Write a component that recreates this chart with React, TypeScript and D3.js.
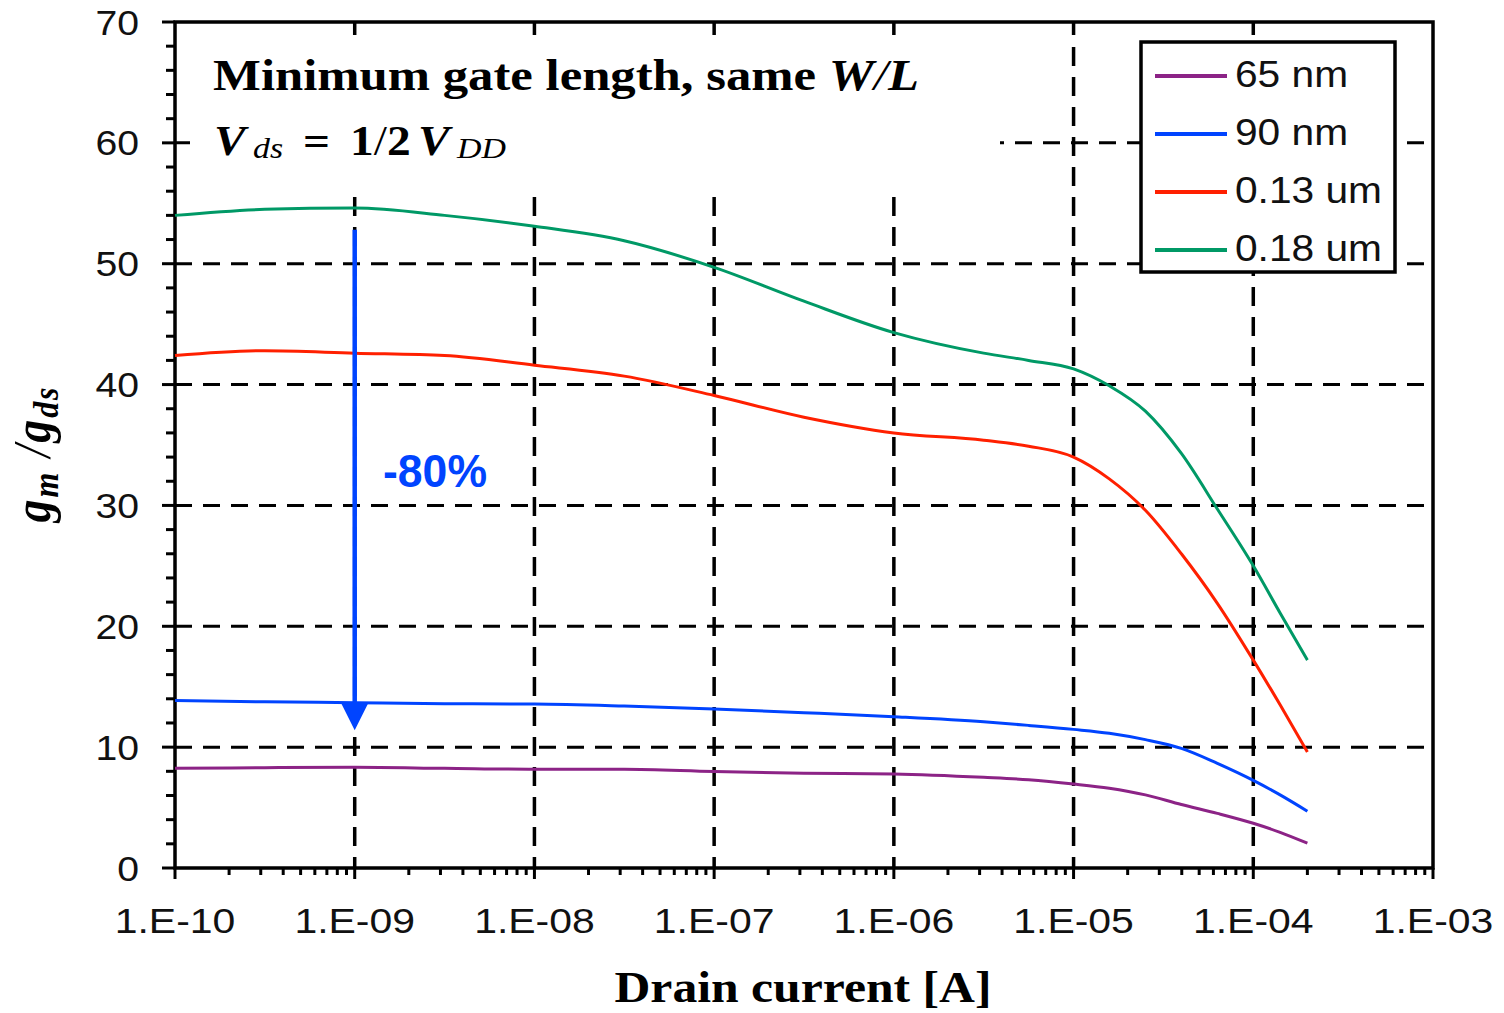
import React from "react";
import * as d3 from "d3";

// drain current sample points [A]
const currents = [
  1e-10, 3.16e-10, 1e-9, 3.16e-9, 1e-8, 3.16e-8, 1e-7, 3.16e-7, 1e-6, 3.16e-6,
  5.62e-6, 1e-5, 1.58e-5, 2.51e-5, 3.98e-5, 6.31e-5, 1e-4, 1.41e-4, 2e-4,
];

// gm/gds for each technology node
const gain65nm = [8.25, 8.3, 8.33, 8.25, 8.17, 8.17, 7.98, 7.85, 7.78, 7.5, 7.3, 6.95, 6.6, 6.05, 5.25, 4.52, 3.7, 2.95, 2.05];
const gain90nm = [13.85, 13.75, 13.68, 13.6, 13.57, 13.4, 13.15, 12.85, 12.52, 12.1, 11.8, 11.47, 11.15, 10.62, 9.9, 8.66, 7.25, 6.05, 4.7];
const gain130nm = [42.4, 42.8, 42.6, 42.4, 41.6, 40.7, 39.1, 37.3, 36.0, 35.4, 34.9, 34.0, 32.2, 29.6, 26.0, 21.9, 17.2, 13.5, 9.6];
const gain180nm = [54.0, 54.5, 54.6, 54.0, 53.1, 51.9, 49.7, 46.9, 44.3, 42.6, 42.0, 41.3, 39.9, 37.8, 34.3, 29.7, 25.0, 21.1, 17.2];

const seriesNames = ["65 nm", "90 nm", "0.13 um", "0.18 um"];
const seriesColors = ["#8c2386", "#0044ff", "#ff2000", "#009966"];
const seriesValues = [gain65nm, gain90nm, gain130nm, gain180nm];

const xTickValues = [1e-10, 1e-9, 1e-8, 1e-7, 1e-6, 1e-5, 1e-4, 1e-3];
const xTickLabels = ["1.E-10", "1.E-09", "1.E-08", "1.E-07", "1.E-06", "1.E-05", "1.E-04", "1.E-03"];
const yTickValues = [0, 10, 20, 30, 40, 50, 60, 70];

// the -80% arrow
const arrowCurrent = 1e-9;
const arrowFrom = 52.8;
const arrowTo = 11.4;
const arrowLabel = "-80%";

const W = 1504;
const H = 1013;
const left = 175;
const right = 1433;
const top = 22;
const bottom = 868;

const sans = "'Liberation Sans', Arial, sans-serif";
const serif = "'Liberation Serif', 'Times New Roman', serif";

export default function App() {
  const x = d3.scaleLog().domain([1e-10, 1e-3]).range([left, right]);
  const y = d3.scaleLinear().domain([0, 70]).range([bottom, top]);

  const line = d3
    .line<[number, number]>()
    .x((d) => x(d[0]))
    .y((d) => y(d[1]))
    .curve(d3.curveMonotoneX);

  const minorX: number[] = [];
  xTickValues.slice(0, -1).forEach((d) => {
    for (let k = 2; k <= 9; k++) minorX.push(d * k);
  });
  const minorY = d3.range(2, 70, 2).filter((v) => v % 10 !== 0);

  const ax = x(arrowCurrent);
  const ay0 = y(arrowFrom);
  const ay1 = y(arrowTo);

  return (
    <svg
      width={W}
      height={H}
      style={{ position: "absolute", left: 0, top: 0, background: "#fff" }}
    >
      <rect width={W} height={H} fill="#fff" />

      {/* grid */}
      <g stroke="#000" strokeWidth={3}>
        {yTickValues.slice(1, -1).map((v) => (
          <line key={"gy" + v} x1={left} x2={right} y1={y(v)} y2={y(v)} strokeDasharray="17 11" />
        ))}
        {xTickValues.slice(1, -1).map((v) => (
          <line key={"gx" + v} x1={x(v)} x2={x(v)} y1={top} y2={bottom} strokeDasharray="13 12 19 11 19 11 19 11 19 11 19 11 19 11 19 11 19 11 19 11 19 11 19 11 19 11 19 11 19 11 19 11 19 11 19 11 19 11 19 11 19 11 19 11 19 11 19 11 19 11 19 11 19 11 19 11 19 11 19 11" strokeWidth={3.5} />
        ))}
      </g>

      {/* white box behind the title text */}
      <rect x={190} y={37} width={810} height={150} fill="#fff" />

      {/* frame */}
      <rect x={left} y={top} width={right - left} height={bottom - top} fill="none" stroke="#000" strokeWidth={3.5} />

      {/* ticks */}
      <g stroke="#000" strokeWidth={3}>
        {xTickValues.map((v) => (
          <line key={"tx" + v} x1={x(v)} x2={x(v)} y1={bottom} y2={bottom + 11} />
        ))}
        {minorX.map((v) => (
          <line key={"mx" + v} x1={x(v)} x2={x(v)} y1={bottom} y2={bottom + 7} />
        ))}
        {yTickValues.map((v) => (
          <line key={"ty" + v} x1={left - 13} x2={left} y1={y(v)} y2={y(v)} />
        ))}
        {minorY.map((v) => (
          <line key={"my" + v} x1={left - 9} x2={left} y1={y(v)} y2={y(v)} />
        ))}
      </g>

      {/* tick labels */}
      <g fontFamily={sans} fontSize={35} fill="#111">
        {xTickValues.map((v, i) => (
          <text key={"lx" + v} transform={`translate(${x(v)},933) scale(1.17,1)`} textAnchor="middle">
            {xTickLabels[i]}
          </text>
        ))}
        {yTickValues.map((v) => (
          <text key={"ly" + v} transform={`translate(139,${y(v) + 12.5}) scale(1.12,1)`} textAnchor="end">
            {v}
          </text>
        ))}
      </g>

      {/* curves */}
      {seriesValues.map((vals, i) => (
        <path
          key={seriesNames[i]}
          d={line(currents.map((c, j) => [c, vals[j]] as [number, number])) || ""}
          fill="none"
          stroke={seriesColors[i]}
          strokeWidth={3}
          strokeLinejoin="round"
        />
      ))}

      {/* arrow annotation */}
      <line x1={ax} x2={ax} y1={ay0} y2={ay1 - 26} stroke="#0044ff" strokeWidth={4.5} />
      <path d={`M${ax - 14},${ay1 - 28} L${ax + 14},${ay1 - 28} L${ax},${ay1} Z`} fill="#0044ff" />
      <text x={383} y={487} fontFamily={sans} fontWeight="bold" fontSize={47} fill="#0044ff" textLength={104} lengthAdjust="spacingAndGlyphs">
        {arrowLabel}
      </text>

      {/* title text */}
      <text x={213} y={90} fontFamily={serif} fontWeight="bold" fontSize={45} fill="#000" textLength={706} lengthAdjust="spacingAndGlyphs">
        Minimum gate length, same <tspan fontStyle="italic">W</tspan>
        <tspan fontStyle="italic" fontWeight="normal">/</tspan>
        <tspan fontStyle="italic">L</tspan>
      </text>
      <g fontFamily={serif} fill="#000">
        <text transform="translate(214,155) scale(1.13,1)" fontSize={42} fontWeight="bold" fontStyle="italic">V</text>
        <text transform="translate(253,158) scale(1.13,1)" fontSize={30} fontStyle="italic">ds</text>
        <text transform="translate(303,155) scale(1.13,1)" fontSize={42} fontWeight="bold">=</text>
        <text transform="translate(350,155) scale(1.13,1)" fontSize={42} fontWeight="bold">
          1<tspan fontWeight="normal">/</tspan>2
        </text>
        <text transform="translate(418,155) scale(1.13,1)" fontSize={42} fontWeight="bold" fontStyle="italic">V</text>
        <text transform="translate(457,158) scale(1.13,1)" fontSize={30} fontStyle="italic">DD</text>
      </g>

      {/* legend */}
      <rect x={1141} y={42} width={254} height={230} fill="#fff" stroke="#000" strokeWidth={3.5} />
      {seriesNames.map((name, i) => {
        const ly = 76 + i * 58;
        return (
          <g key={"lg" + name}>
            <line x1={1155} x2={1227} y1={ly} y2={ly} stroke={seriesColors[i]} strokeWidth={4} />
            <text transform={`translate(1235,${ly + 11}) scale(1.1,1)`} fontFamily={sans} fontSize={37} fill="#111">
              {name}
            </text>
          </g>
        );
      })}

      {/* axis titles */}
      <text x={803} y={1002} textAnchor="middle" fontFamily={serif} fontWeight="bold" fontSize={44} fill="#000" textLength={377} lengthAdjust="spacingAndGlyphs">
        Drain current [A]
      </text>
      <text
        transform="translate(50,455) scale(1.13,1) rotate(-90)"
        textAnchor="middle"
        fontFamily={serif}
        fontWeight="bold"
        fontStyle="italic"
        fontSize={46}
        fill="#000"
        textLength={135}
        lengthAdjust="spacing"
      >
        g<tspan fontSize={32} dy={7}>m</tspan>
        <tspan dy={-7} fontWeight="normal"> /</tspan>
        <tspan>g</tspan>
        <tspan fontSize={32} dy={7}>ds</tspan>
      </text>
    </svg>
  );
}
